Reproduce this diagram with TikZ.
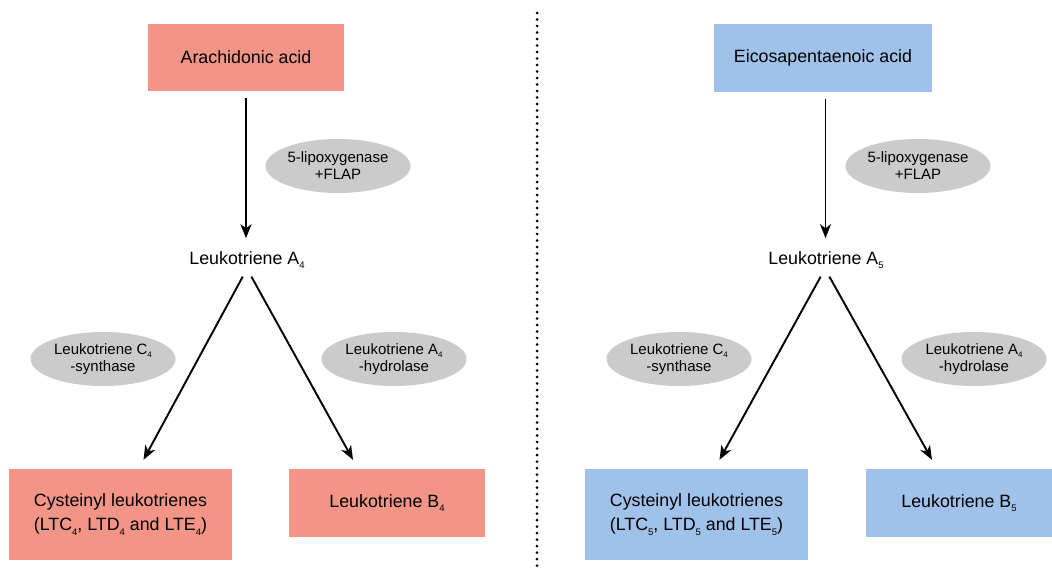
\documentclass[tikz,border=0pt]{standalone}
\usepackage{fontspec}
\setmainfont{Liberation Sans}
\usetikzlibrary{shapes.geometric,arrows.meta}
\definecolor{salmon}{HTML}{F29586}
\definecolor{skyb}{HTML}{A0C2EA}
\definecolor{enz}{HTML}{CBCBCB}
\newcommand{\lsb}[1]{\raisebox{-0.45ex}{\fontsize{9.5}{9.5}\selectfont #1}}
\newcommand{\esb}[1]{\raisebox{-0.45ex}{\fontsize{8}{8}\selectfont #1}}
\begin{document}
\begin{tikzpicture}[x=1pt,y=-1pt,
  box/.style={rectangle,inner sep=0pt,align=center,font=\fontsize{17.8}{24}\selectfont},
  redbox/.style={box,fill=salmon},
  bluebox/.style={box,fill=skyb},
  enzyme/.style={ellipse,fill=enz,inner sep=0pt,minimum width=145pt,minimum height=54pt,align=center,font=\fontsize{15}{17}\selectfont},
  plain/.style={inner sep=0pt,font=\fontsize{17.8}{21}\selectfont},
  arr/.style={line width=1.9pt,-{Stealth[length=14pt,width=11pt,inset=4pt]}}]
\useasboundingbox (0,0) rectangle (1052,573);
% left half
\node[redbox,minimum width=196pt,minimum height=67pt] (aa) at (246,57.5) {Arachidonic acid};
\node[plain] (lta4) at (247,260) {Leukotriene A\lsb{4}};
\node[enzyme] (lox1) at (338,166) {5-lipoxygenase\\+FLAP};
\node[enzyme] (ltcs1) at (103,359) {Leukotriene C\esb{4}\\-synthase};
\node[enzyme] (ltah1) at (394,359) {Leukotriene A\esb{4}\\-hydrolase};
\node[redbox,minimum width=223pt,minimum height=91pt] (cys4) at (120.5,514.5) {Cysteinyl leukotrienes\\(LTC\lsb{4}, LTD\lsb{4} and LTE\lsb{4})};
\node[redbox,minimum width=196pt,minimum height=68pt] (ltb4) at (387,503) {Leukotriene B\lsb{4}};
\draw[arr,shorten <=7pt,shorten >=13pt] (aa.south) -- (aa.south |- lta4.north);
\draw[arr,shorten <=9pt] (lta4.south) -- ([xshift=23pt,yshift=9pt]cys4.north);
\draw[arr,shorten <=9pt] (lta4.south) -- ([xshift=-34pt,yshift=9pt]ltb4.north);
% divider
\coordinate (dtop) at (537,13);
\coordinate (dbot) at (537,571);
\draw[line width=3pt,dash pattern=on 0pt off 6.5pt,line cap=round] (dtop) -- (dbot);
% right half
\node[bluebox,minimum width=218pt,minimum height=68pt] (epa) at (823,58) {Eicosapentaenoic acid};
\node[plain] (lta5) at (826,260) {Leukotriene A\lsb{5}};
\node[enzyme] (lox2) at (918,166) {5-lipoxygenase\\+FLAP};
\node[enzyme] (ltcs2) at (679,359) {Leukotriene C\esb{4}\\-synthase};
\node[enzyme] (ltah2) at (974,359) {Leukotriene A\esb{4}\\-hydrolase};
\node[bluebox,minimum width=223pt,minimum height=91pt] (cys5) at (696.5,514.5) {Cysteinyl leukotrienes\\(LTC\lsb{5}, LTD\lsb{5} and LTE\lsb{5})};
\node[bluebox,minimum width=186pt,minimum height=68pt] (ltb5) at (959,503) {Leukotriene B\lsb{5}};
\draw[arr,shorten <=7pt,shorten >=13pt] (epa.south) ++(2.5,0) coordinate (epas) (epas) -- (epas |- lta5.north);
\draw[arr,shorten <=9pt] ([xshift=-1pt]lta5.south) -- ([xshift=23pt,yshift=9pt]cys5.north);
\draw[arr,shorten <=9pt] ([xshift=-1pt]lta5.south) -- ([xshift=-27pt,yshift=9pt]ltb5.north);
\end{tikzpicture}
\end{document}
